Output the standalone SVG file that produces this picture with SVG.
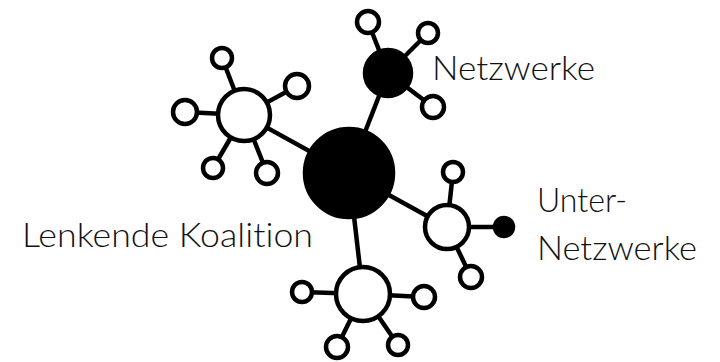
<svg xmlns="http://www.w3.org/2000/svg" width="720" height="362" viewBox="0 0 720 362">
<style>
.w{fill:#fff;stroke:#000;stroke-width:4.5}
.b{fill:#000;stroke:#000;stroke-width:4.5}
.e{stroke:#000;stroke-width:4.5}
.t{font-family:Lato,"Open Sans","Liberation Sans",sans-serif;font-weight:300;font-size:34px;fill:#111;font-variant-ligatures:none;font-feature-settings:"liga" 0,"dlig" 0}
</style>
<rect width="720" height="362" fill="#fff"/>
<g id="connectors">
<line class="e" x1="349" y1="173" x2="388" y2="73"/>
<line class="e" x1="349" y1="173" x2="244" y2="115"/>
<line class="e" x1="349" y1="173" x2="447" y2="227"/>
<line class="e" x1="349" y1="173" x2="363" y2="294"/>
<line class="e" x1="388" y1="73" x2="368" y2="22"/>
<line class="e" x1="388" y1="73" x2="428" y2="33"/>
<line class="e" x1="388" y1="73" x2="433" y2="107"/>
<line class="e" x1="244" y1="115" x2="222" y2="58"/>
<line class="e" x1="244" y1="115" x2="297" y2="86"/>
<line class="e" x1="244" y1="115" x2="185" y2="112"/>
<line class="e" x1="244" y1="115" x2="213" y2="168"/>
<line class="e" x1="244" y1="115" x2="267" y2="173"/>
<line class="e" x1="447" y1="227" x2="453" y2="172"/>
<line class="e" x1="447" y1="227" x2="504" y2="227"/>
<line class="e" x1="447" y1="227" x2="471" y2="277"/>
<line class="e" x1="363" y1="294" x2="302" y2="292"/>
<line class="e" x1="363" y1="294" x2="424" y2="297"/>
<line class="e" x1="363" y1="294" x2="337" y2="347"/>
<line class="e" x1="363" y1="294" x2="398" y2="345"/>
</g>
<g id="lenkende-koalition">
<circle class="b" cx="349" cy="173" r="44"/>
<text class="t" x="22" y="247" textLength="291" lengthAdjust="spacingAndGlyphs">Lenkende Koalition</text>
</g>
<g id="netzwerke">
<circle class="b" cx="388" cy="73" r="23"/>
<text class="t" x="432" y="80" textLength="163" lengthAdjust="spacingAndGlyphs">Netzwerke</text>
</g>
<g id="sat-n1"><circle class="w" cx="368" cy="22" r="11"/></g>
<g id="sat-n2"><circle class="w" cx="428" cy="33" r="10"/></g>
<g id="sat-n3"><circle class="w" cx="433" cy="107" r="11"/></g>
<g id="left-hub"><circle class="w" cx="244" cy="115" r="26"/></g>
<g id="sat-l1"><circle class="w" cx="222" cy="58" r="10"/></g>
<g id="sat-l2"><circle class="w" cx="297" cy="86" r="12"/></g>
<g id="sat-l3"><circle class="w" cx="185" cy="112" r="12"/></g>
<g id="sat-l4"><circle class="w" cx="213" cy="168" r="10"/></g>
<g id="sat-l5"><circle class="w" cx="267" cy="173" r="11"/></g>
<g id="unter-netzwerke">
<circle class="w" cx="447" cy="227" r="22"/>
<text class="t" x="537" y="212" textLength="90" lengthAdjust="spacingAndGlyphs">Unter-</text>
<text class="t" x="537" y="260" textLength="160" lengthAdjust="spacingAndGlyphs">Netzwerke</text>
</g>
<g id="sat-u1"><circle class="w" cx="453" cy="172" r="10"/></g>
<g id="sat-u2"><circle class="b" cx="504" cy="227" r="9"/></g>
<g id="sat-u3"><circle class="w" cx="471" cy="277" r="11"/></g>
<g id="bottom-hub"><circle class="w" cx="363" cy="294" r="27"/></g>
<g id="sat-b1"><circle class="w" cx="302" cy="292" r="10"/></g>
<g id="sat-b2"><circle class="w" cx="424" cy="297" r="11"/></g>
<g id="sat-b3"><circle class="w" cx="337" cy="347" r="11"/></g>
<g id="sat-b4"><circle class="w" cx="398" cy="345" r="10"/></g>
</svg>
